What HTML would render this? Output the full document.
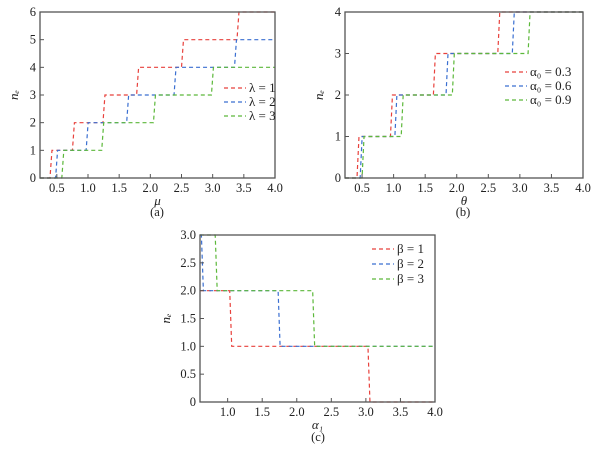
<!DOCTYPE html>
<html><head><meta charset="utf-8"><style>
body{margin:0;background:#fff;}
svg{display:block;font-family:"Liberation Serif",serif;}
</style></head><body>
<svg id="fig" width="601" height="454" viewBox="0 0 601 454"></svg>
<script>
// Panel (a): n_e vs mu
const aSeriesNames = ["λ = 1","λ = 2","λ = 3"];
const aJumpsX = [[0.39,0.75,1.24,1.78,2.50,3.39],[0.48,0.97,1.62,2.38,3.35],[0.58,1.22,2.05,2.98]];
const aStartY = [0,0,0];
const aStepY = [1,1,1];
const aXTicks = [0.5,1.0,1.5,2.0,2.5,3.0,3.5,4.0];
const aYTicks = [0,1,2,3,4,5,6];
// Panel (b): n_e vs theta
const bSeriesNames = ["α₀ = 0.3","α₀ = 0.6","α₀ = 0.9"];
const bJumpsX = [[0.42,0.95,1.63,2.65],[0.47,1.02,1.83,2.88],[0.50,1.12,1.93,3.13]];
const bStartY = [0,0,0];
const bStepY = [1,1,1];
const bXTicks = [0.5,1.0,1.5,2.0,2.5,3.0,3.5,4.0];
const bYTicks = [0,1,2,3,4];
// Panel (c): n_e vs alpha1
const cSeriesNames = ["β = 1","β = 2","β = 3"];
const cJumpsX = [[1.03,3.03],[0.62,1.73],[0.82,2.23]];
const cStartY = [2,3,3];
const cStepY = [-1,-1,-1];
const cXTicks = [1.0,1.5,2.0,2.5,3.0,3.5,4.0];
const cYTicks = [0,0.5,1.0,1.5,2.0,2.5,3.0];

const colors=["#e8413c","#3a6fd1","#5cb83a"];
const NS="http://www.w3.org/2000/svg";
const svg=document.getElementById('fig');
function mk(tag,attrs,parent){const e=document.createElementNS(NS,tag);for(const k in attrs)e.setAttribute(k,attrs[k]);(parent||svg).appendChild(e);return e;}

function panel(id,box,xmin,xmax,ymin,ymax,xt,yt,yfmt,names,jumps,startY,stepY,legend,xtitle,label,labelPos){
  const g=mk('g',{});
  
  
  const X=v=>box.l+(v-xmin)/(xmax-xmin)*(box.r-box.l);
  const Y=v=>box.b-(v-ymin)/(ymax-ymin)*(box.b-box.t);
  jumps.forEach((js,i)=>{
    let y=startY[i],x=xmin,d='M'+X(x)+','+Y(y);
    js.forEach(jx=>{d+=' L'+X(jx)+','+Y(y);y+=stepY[i];d+=' L'+(X(jx)+2)+','+Y(y);});
    d+=' L'+X(xmax)+','+Y(y);
    const p=mk('path',{d:d,fill:'none',stroke:colors[i],'stroke-width':1.2,'stroke-dasharray':'4,3'},g);
    
    
  });
  const fr=mk('rect',{x:box.l,y:box.t,width:box.r-box.l,height:box.b-box.t,fill:'none',stroke:'#555','stroke-width':1.3},g);
  
  
  xt.forEach(v=>{
    mk('line',{x1:X(v),x2:X(v),y1:box.b,y2:box.b-4,stroke:'#555'},g);
    const t=mk('text',{x:X(v),y:box.b+14,'font-size':12.5,'text-anchor':'middle',fill:'#222'},g);
    t.textContent=v.toFixed(1);
    
    
  });
  yt.forEach(v=>{
    mk('line',{x1:box.l,x2:box.l+4,y1:Y(v),y2:Y(v),stroke:'#555'},g);
    const t=mk('text',{x:box.l-4,y:Y(v)+4,'font-size':12.5,'text-anchor':'end',fill:'#222'},g);
    t.textContent=yfmt(v);
    
    
  });
  names.forEach((n,i)=>{
    const ly=legend.y+i*legend.dy;
    const l=mk('line',{x1:legend.x,x2:legend.x+22,y1:ly,y2:ly,stroke:colors[i],'stroke-width':1.2,'stroke-dasharray':'4,3'},g);
    
    
    const t=mk('text',{x:legend.x+25,y:ly+4,'font-size':13,fill:'#222'},g);
    t.textContent=n;
    
    
  });
  const xtl=mk('text',{x:(box.l+box.r)/2,y:box.b+27,'font-size':13,'font-style':'italic','text-anchor':'middle',fill:'#222'},g);
  xtl.textContent=xtitle;
  
  
  const cy=(box.t+box.b)/2, cx=box.l-(id==='c'?30:22);
  const ytl=mk('text',{x:cx,y:cy,'font-size':13,'font-style':'italic','text-anchor':'middle',fill:'#222',transform:'rotate(-90 '+cx+' '+cy+')'},g);
  ytl.textContent='nₑ';
  
  
  const lb=mk('text',{x:labelPos[0],y:labelPos[1],'font-size':12.5,'text-anchor':'middle',fill:'#222'},g);
  lb.textContent=label;
  
  
}
panel('a',{l:40,r:275,t:12,b:178},0.23,4.0,0,6,aXTicks,aYTicks,v=>String(v),aSeriesNames,aJumpsX,aStartY,aStepY,{x:224,y:88,dy:14},'μ','(a)',[157,216]);
panel('b',{l:345,r:583,t:12,b:178},0.23,4.0,0,4,bXTicks,bYTicks,v=>String(v),bSeriesNames,bJumpsX,bStartY,bStepY,{x:505,y:72,dy:14},'θ','(b)',[463,216]);
panel('c',{l:200,r:435,t:235,b:402},0.6,4.0,0,3,cXTicks,cYTicks,v=>v===0?'0':v.toFixed(1),cSeriesNames,cJumpsX,cStartY,cStepY,{x:372,y:249,dy:15},'α₁','(c)',[318,441]);
</script>
</body></html>
